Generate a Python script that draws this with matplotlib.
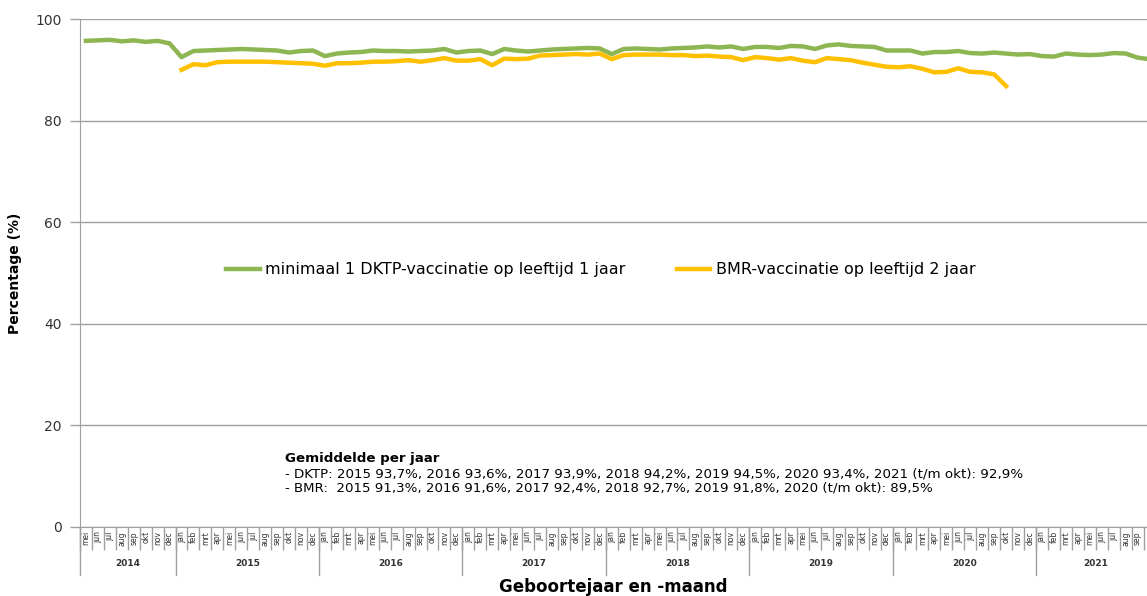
import numpy as np
import matplotlib
matplotlib.use("Agg")
import matplotlib.pyplot as plt
import matplotlib.transforms as mtransforms

plt.rcParams['font.family'] = ['DejaVu Sans']

maanden = ['jan', 'feb', 'mrt', 'apr', 'mei', 'jun', 'jul', 'aug', 'sep', 'okt', 'nov', 'dec']
jaren = [2014, 2015, 2016, 2017, 2018, 2019, 2020, 2021]
# eerste en laatste maand (index) per jaar
jaar_start = [4, 0, 0, 0, 0, 0, 0, 0]
jaar_eind = [11, 11, 11, 11, 11, 11, 11, 9]

# DKTP per jaar (vanaf mei 2014 t/m okt 2021)
dktp_2014 = [95.7, 95.8, 95.9, 95.6, 95.8, 95.5, 95.7, 95.2]
dktp_2015 = [92.5, 93.7, 93.8, 93.9, 94.0, 94.1, 94.0, 93.9, 93.8, 93.4, 93.7, 93.8]
dktp_2016 = [92.7, 93.2, 93.4, 93.5, 93.8, 93.7, 93.7, 93.6, 93.7, 93.8, 94.1, 93.4]
dktp_2017 = [93.7, 93.8, 93.1, 94.1, 93.8, 93.6, 93.8, 94.0, 94.1, 94.2, 94.3, 94.2]
dktp_2018 = [93.1, 94.1, 94.2, 94.1, 94.0, 94.2, 94.3, 94.4, 94.6, 94.4, 94.6, 94.1]
dktp_2019 = [94.5, 94.5, 94.3, 94.7, 94.6, 94.1, 94.8, 95.0, 94.7, 94.6, 94.5, 93.8]
dktp_2020 = [93.8, 93.8, 93.2, 93.5, 93.5, 93.7, 93.3, 93.2, 93.4, 93.2, 93.0, 93.1]
dktp_2021 = [92.7, 92.6, 93.2, 93.0, 92.9, 93.0, 93.3, 93.2, 92.4, 92.1]

# BMR per jaar (vanaf jan 2015 t/m okt 2020)
bmr_2015 = [90.0, 91.1, 90.9, 91.5, 91.6, 91.6, 91.6, 91.6, 91.5, 91.4, 91.3, 91.2]
bmr_2016 = [90.8, 91.3, 91.3, 91.4, 91.6, 91.6, 91.7, 91.9, 91.6, 91.9, 92.3, 91.8]
bmr_2017 = [91.8, 92.1, 90.9, 92.2, 92.1, 92.2, 92.8, 92.9, 93.0, 93.1, 93.0, 93.2]
bmr_2018 = [92.1, 92.9, 93.0, 93.0, 93.0, 92.9, 92.9, 92.7, 92.8, 92.6, 92.5, 91.9]
bmr_2019 = [92.5, 92.3, 92.0, 92.3, 91.8, 91.5, 92.3, 92.1, 91.9, 91.4, 91.0, 90.6]
bmr_2020 = [90.5, 90.7, 90.2, 89.5, 89.6, 90.3, 89.6, 89.5, 89.1, 86.8]

tekst = ("- DKTP: 2015 93,7%, 2016 93,6%, 2017 93,9%, 2018 94,2%, 2019 94,5%, 2020 93,4%, 2021 (t/m okt): 92,9%\n"
         "- BMR:  2015 91,3%, 2016 91,6%, 2017 92,4%, 2018 92,7%, 2019 91,8%, 2020 (t/m okt): 89,5%")

dktp = dktp_2014 + dktp_2015 + dktp_2016 + dktp_2017 + dktp_2018 + dktp_2019 + dktp_2020 + dktp_2021
bmr = bmr_2015 + bmr_2016 + bmr_2017 + bmr_2018 + bmr_2019 + bmr_2020

labels = []
for j, s, e in zip(jaren, jaar_start, jaar_eind):
    for m in range(s, e + 1):
        labels.append(maanden[m])
x = np.arange(len(labels))
x_bmr = x[labels.index('jan'):labels.index('jan') + len(bmr)]

groen = '#8db653'
oranje = '#ffc000'
grijs = '#a0a0a0'

fig = plt.figure(figsize=(11.47, 5.96), dpi=100)
ax = fig.add_axes([0.0697, 0.1158, 0.9303, 0.8523])

ax.plot(x[:len(dktp)], dktp, color=groen, lw=3.2, solid_joinstyle='round',
        label='minimaal 1 DKTP-vaccinatie op leeftijd 1 jaar')
ax.plot(x_bmr, bmr, color=oranje, lw=3.2, solid_joinstyle='round',
        label='BMR-vaccinatie op leeftijd 2 jaar')

ax.set_ylim(0, 100)
ax.set_xlim(-0.5, 88.79)
ax.set_yticks([0, 20, 40, 60, 80, 100])
ax.grid(axis='y', color=grijs, lw=1)
ax.set_axisbelow(True)
for s in ['top', 'right']:
    ax.spines[s].set_visible(False)
ax.spines['left'].set_color(grijs)
ax.spines['bottom'].set_color(grijs)
ax.tick_params(axis='y', colors=grijs, length=7, width=1, labelsize=10, labelcolor='#333333', pad=6)

# maandlabels
ax.set_xticks(x[x <= 88])
ax.set_xticklabels([labels[i] for i in x if i <= 88], rotation=90, fontsize=5.5, color='#333333')
ax.tick_params(axis='x', which='major', length=0, pad=3)
ax.set_xticks(np.arange(-0.5, 89, 1), minor=True)
ax.tick_params(axis='x', which='minor', length=16.5, color=grijs, width=1)

# jaarscheidingen en jaarlabels
trans = mtransforms.blended_transform_factory(ax.transData, ax.transAxes)
pos = 0
for j, s, e in zip(jaren, jaar_start, jaar_eind):
    n = e - s + 1
    ax.plot([pos - 0.5, pos - 0.5], [0, -0.095], transform=trans, color=grijs, lw=1, clip_on=False)
    ax.text(pos - 0.5 + n / 2, -0.071, str(j), transform=trans, ha='center', va='center',
            fontsize=6.5, fontweight='bold', color='#333333')
    pos += n

ax.set_ylabel('Percentage (%)', fontsize=10, fontweight='bold', labelpad=10)
ax.set_xlabel('Geboortejaar en -maand', fontsize=12, fontweight='bold')
ax.xaxis.set_label_coords(0.5, -0.1)

ax.legend(loc='center', bbox_to_anchor=(0.488, 0.506), ncol=2, frameon=False, fontsize=11.5,
          handlelength=2.1, columnspacing=3.2, handletextpad=0.35)

ax.text(0.192, 0.148, 'Gemiddelde per jaar', transform=ax.transAxes, fontsize=9.6,
        fontweight='bold', va='top', ha='left')
ax.text(0.192, 0.118, tekst, transform=ax.transAxes, fontsize=9.6, va='top', ha='left',
        linespacing=1.1)

fig.savefig('out.png', dpi=100)
